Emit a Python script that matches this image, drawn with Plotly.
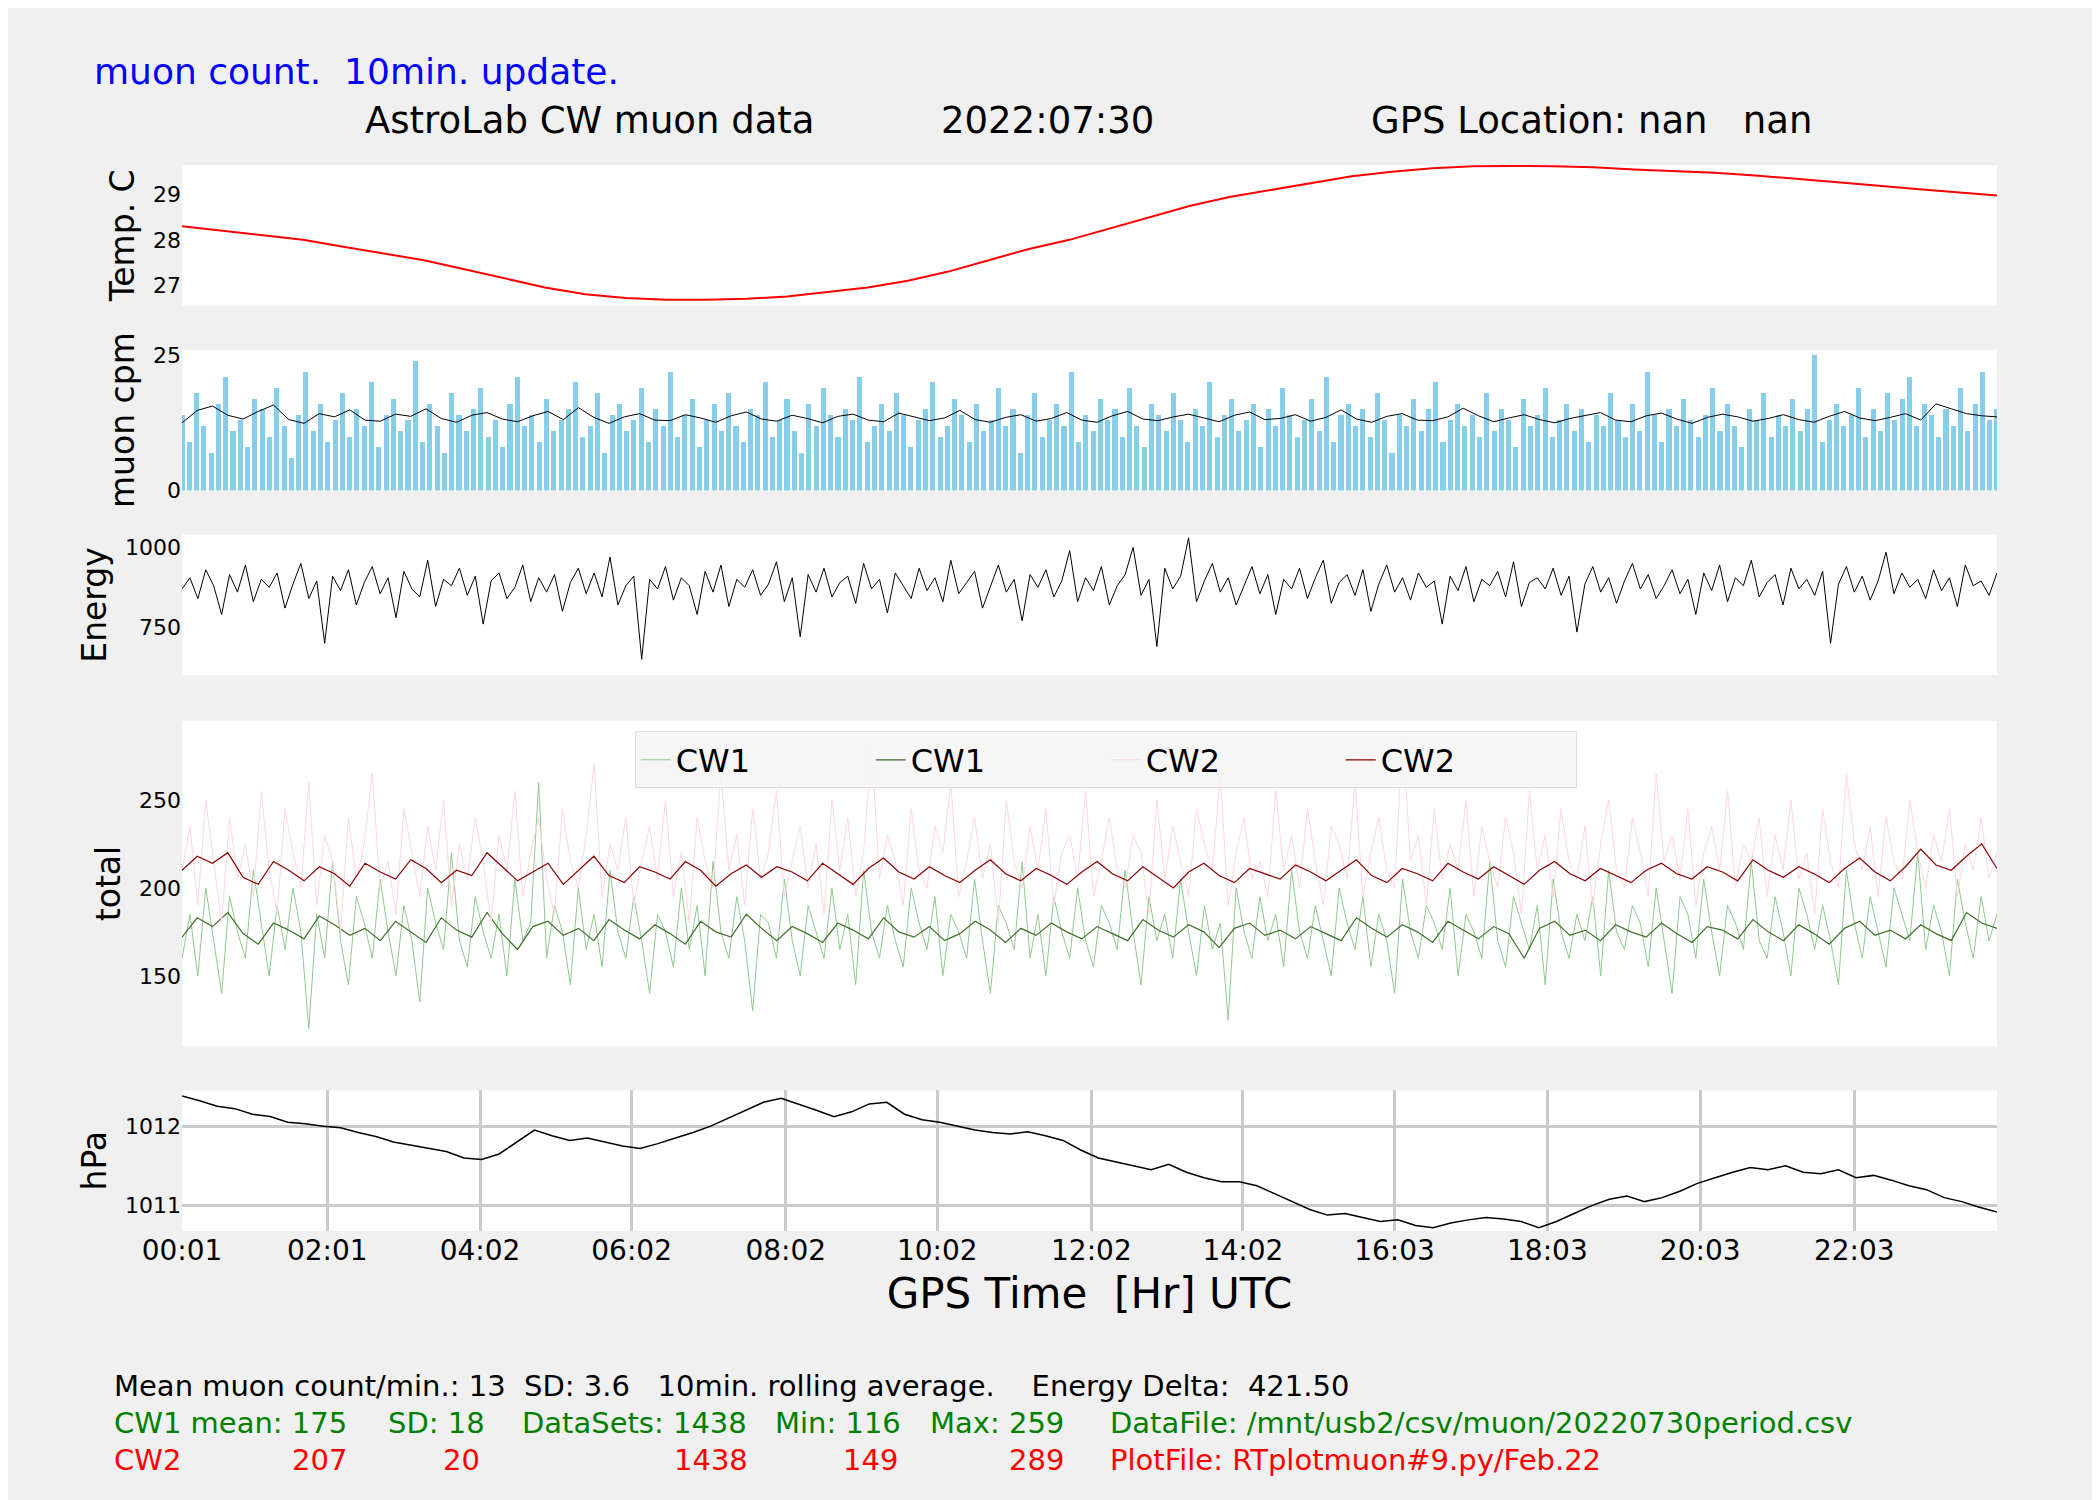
import numpy as np
import plotly.graph_objects as go
from plotly.subplots import make_subplots

N_MIN = 1438
tick_pos = [0, 115, 236, 356, 478, 598, 720, 840, 960, 1081, 1202, 1324]
tick_txt = ["00:01", "02:01", "04:02", "06:02", "08:02", "10:02", "12:02",
            "14:02", "16:03", "18:03", "20:03", "22:03"]

temp_c = [28.3, 28.2, 28.1, 28.0, 27.85, 27.7, 27.55, 27.35, 27.15, 26.95, 26.8, 26.72, 26.68,
          26.68, 26.7, 26.75, 26.85, 26.95, 27.1, 27.3, 27.55, 27.8, 28.0, 28.25, 28.5,
          28.75, 28.95, 29.1, 29.25, 29.4, 29.5, 29.58, 29.62, 29.63, 29.62, 29.6, 29.55,
          29.52, 29.48, 29.42, 29.35, 29.28, 29.2, 29.12, 29.05, 28.98]

muon_cpm = [14,9,18,12,7,16,21,11,13,8,17,15,10,19,12,6,14,22,11,16,9,13,18,10,15,12,20,8,14,17,
            11,13,24,9,16,12,7,18,14,11,15,19,10,13,8,16,21,12,14,9,17,11,13,15,20,10,12,18,7,14,
            16,11,13,19,9,15,12,22,10,14,17,8,13,16,11,18,12,9,15,14,20,10,13,17,11,7,16,12,19,14,
            10,15,13,21,9,12,16,11,18,14,8,13,15,20,10,12,17,14,9,16,11,13,19,12,15,7,14,18,10,13,
            16,12,22,9,14,11,17,13,15,10,19,12,8,16,14,11,18,13,9,15,12,20,10,14,17,11,13,16,8,15,
            12,19,14,10,13,17,11,21,9,14,16,12,15,10,18,13,7,14,12,17,11,15,20,9,13,16,12,14,10,18,
            11,15,13,8,17,12,14,19,10,13,16,11,15,9,14,12,18,13,10,16,11,22,14,9,15,12,17,13,10,14,
            19,11,16,12,8,15,13,18,10,14,12,17,11,15,25,9,13,16,12,14,19,10,15,11,18,13,17,21,12,16,
            14,10,15,12,19,11,16,22,13,15]
muon_avg = [12.5,14.8,15.6,13.9,13.2,14.6,15.8,13.1,12.4,14.2,13.6,14.9,13.0,12.8,14.1,13.7,15.1,13.3,12.6,13.9,
            14.4,13.2,12.7,13.8,14.6,13.1,15.3,13.5,12.4,13.6,14.2,13.0,12.9,14.0,13.4,12.6,13.8,14.5,13.2,12.8,
            13.9,13.3,12.5,13.7,14.1,13.0,12.7,14.3,13.6,12.9,13.4,14.8,13.1,12.6,13.5,14.0,12.8,13.3,14.4,13.0,
            12.6,13.8,14.6,13.2,12.9,13.6,14.1,13.4,12.7,13.9,14.5,13.1,13.3,14.0,12.8,13.5,14.9,13.2,12.6,13.7,
            14.2,13.0,12.9,13.6,15.2,13.8,12.7,13.4,14.0,13.1,12.5,13.3,13.9,14.4,13.0,12.7,13.8,14.3,13.2,12.4,
            13.5,14.1,13.6,12.8,13.3,14.0,13.1,12.6,13.7,14.6,13.4,12.9,13.5,14.2,13.0,16.0,15.1,14.2,13.8,13.6]

energy = [870,905,840,930,880,790,915,860,945,830,900,875,920,810,885,950,840,895,700,910,
          865,930,820,890,940,855,905,780,925,870,845,960,815,900,880,935,850,910,760,895,
          920,840,875,945,830,905,860,915,800,890,935,855,920,845,970,820,880,910,650,900,
          870,940,835,905,880,790,925,860,945,815,900,875,930,850,885,955,830,905,720,915,
          860,935,845,890,910,825,950,870,900,795,920,880,840,935,865,905,830,960,855,890,
          925,810,880,945,860,900,770,915,875,930,845,895,990,830,905,865,940,820,880,915,
          1000,850,900,690,935,870,910,1030,830,895,950,860,905,820,880,940,855,915,790,900,
          870,935,840,905,960,825,890,915,850,930,800,885,945,860,905,835,920,875,895,760,
          910,865,940,830,900,880,925,845,955,815,890,905,870,935,850,910,735,885,940,860,
          905,825,895,950,870,915,840,880,930,855,900,790,920,865,945,830,905,880,960,845,
          890,915,820,935,870,900,850,925,700,885,940,860,910,835,895,985,855,920,875,900,
          840,930,865,905,815,945,880,895,850,920]

cw1_raw = [160,185,150,200,170,140,195,175,160,210,180,150,190,165,200,175,120,185,160,215,
           170,145,195,180,160,205,175,150,190,170,135,200,180,165,220,170,155,195,175,160,
           185,150,205,170,180,260,160,190,175,145,200,165,185,155,210,175,160,195,170,140,
           185,175,155,200,165,190,150,215,175,160,195,170,130,185,180,160,205,170,150,190,
           175,160,200,165,185,145,210,175,160,190,170,155,200,180,165,195,150,185,175,160,
           205,170,140,190,180,165,215,160,185,150,195,175,160,200,170,155,190,180,165,210,
           175,145,195,170,185,160,205,175,150,190,165,180,125,200,175,160,195,170,185,155,
           210,175,160,190,170,150,200,180,165,195,155,185,170,140,205,175,160,190,180,165,
           200,150,185,175,160,215,170,155,195,180,165,190,145,205,175,160,185,170,195,150,
           210,175,165,190,180,155,200,170,140,195,185,160,205,175,150,190,180,165,215,170,
           160,195,175,150,200,185,165,190,170,145,210,180,160,195,175,155,200,185,170,220,
           165,190,175,150,205,180,160,195,170,185]
cw1_avg = [172,183,178,186,174,168,180,176,171,184,179,173,177,170,181,175,169,183,176,172,
           186,174,165,178,181,173,177,170,182,176,171,179,174,168,181,175,172,185,177,170,
           178,174,169,180,176,171,183,175,172,178,170,174,181,176,169,177,173,180,175,171,
           178,174,170,182,176,172,179,175,166,177,180,173,176,171,178,174,170,183,177,172,
           179,175,169,181,176,171,178,174,160,177,181,173,176,170,179,175,172,180,174,169,
           178,176,171,182,175,170,179,174,168,177,181,173,176,171,179,174,170,186,180,177]
cw2_raw = [210,235,190,250,215,180,240,205,225,195,255,210,185,245,220,200,260,190,230,215,
           175,240,205,225,265,200,215,185,245,220,195,235,210,250,190,225,205,240,215,180,
           230,210,255,195,220,240,205,185,245,215,200,230,270,195,225,210,240,190,215,235,
           205,250,195,220,180,240,215,200,265,210,230,190,245,205,220,255,195,215,235,200,
           225,185,250,210,240,195,220,280,205,230,215,190,245,210,200,235,220,260,195,215,
           240,205,225,180,250,215,200,235,210,245,190,220,230,205,255,195,215,240,210,200,
           230,220,185,250,205,235,215,195,245,225,210,265,190,220,240,205,215,195,255,210,
           230,200,245,215,190,235,225,205,260,195,220,240,210,200,289,215,230,190,245,205,
           225,210,250,195,235,215,200,240,220,185,255,210,230,195,245,215,205,235,190,225,
           250,210,200,240,220,195,265,215,230,205,245,190,220,235,210,255,200,225,215,240,
           195,230,210,250,205,220,185,245,215,200,265,225,210,235,195,240,215,205,250,220,
           200,230,215,245,195,225,210,240,205,220]
cw2_avg = [210,218,214,220,206,202,215,210,204,212,208,201,214,209,205,216,211,203,210,207,
           220,212,204,209,214,202,210,218,207,203,212,209,205,215,210,201,208,213,206,212,
           209,204,214,208,202,211,217,209,205,212,207,203,210,216,208,204,211,207,202,209,
           215,208,204,212,206,200,209,214,207,203,211,208,205,213,209,204,210,216,207,203,
           211,208,204,214,209,205,212,207,202,210,215,208,204,211,207,203,210,214,208,205,
           212,209,204,216,210,206,212,208,203,211,217,209,204,212,222,213,210,218,225,211]

hpa = [1012.38,1012.32,1012.25,1012.22,1012.15,1012.12,1012.05,1012.03,1012.0,1011.98,1011.92,1011.87,
       1011.8,1011.76,1011.72,1011.68,1011.6,1011.58,1011.65,1011.8,1011.95,1011.88,1011.82,1011.85,
       1011.8,1011.75,1011.72,1011.78,1011.85,1011.92,1012.0,1012.1,1012.2,1012.3,1012.35,1012.28,
       1012.2,1012.12,1012.18,1012.28,1012.3,1012.15,1012.08,1012.05,1012.0,1011.95,1011.92,1011.9,
       1011.93,1011.88,1011.82,1011.7,1011.6,1011.55,1011.5,1011.45,1011.52,1011.42,1011.35,1011.3,
       1011.3,1011.25,1011.15,1011.05,1010.95,1010.88,1010.9,1010.85,1010.8,1010.82,1010.75,1010.72,
       1010.78,1010.82,1010.85,1010.83,1010.8,1010.72,1010.8,1010.9,1011.0,1011.08,1011.12,1011.05,
       1011.1,1011.18,1011.28,1011.35,1011.42,1011.48,1011.45,1011.5,1011.42,1011.4,1011.45,1011.35,
       1011.38,1011.32,1011.25,1011.2,1011.1,1011.05,1010.98,1010.92]


def xs(arr):
    return np.arange(len(arr)) * (N_MIN - 1) / (len(arr) - 1)


fig = make_subplots(rows=5, cols=1, shared_xaxes=True)
fig.add_trace(go.Scatter(x=xs(temp_c), y=temp_c, mode="lines", line=dict(color="red", width=2)), 1, 1)
fig.add_trace(go.Bar(x=xs(muon_cpm), y=muon_cpm, marker=dict(color="#87ceeb", line=dict(width=0)),
                     width=(N_MIN - 1) / len(muon_cpm) * 0.7), 2, 1)
fig.add_trace(go.Scatter(x=xs(muon_avg), y=muon_avg, mode="lines", line=dict(color="black", width=1)), 2, 1)
fig.add_trace(go.Scatter(x=xs(energy), y=energy, mode="lines", line=dict(color="black", width=1)), 3, 1)
fig.add_trace(go.Scatter(x=xs(cw1_raw), y=cw1_raw, mode="lines", name="CW1",
                         line=dict(color="#8fca8f", width=1), showlegend=True), 4, 1)
fig.add_trace(go.Scatter(x=xs(cw1_avg), y=cw1_avg, mode="lines", name="CW1",
                         line=dict(color="#3f6f2a", width=1.2), showlegend=True), 4, 1)
fig.add_trace(go.Scatter(x=xs(cw2_raw), y=cw2_raw, mode="lines", name="CW2",
                         line=dict(color="#ffd6de", width=1), showlegend=True), 4, 1)
fig.add_trace(go.Scatter(x=xs(cw2_avg), y=cw2_avg, mode="lines", name="CW2",
                         line=dict(color="#8b0000", width=1.2), showlegend=True), 4, 1)
fig.add_trace(go.Scatter(x=xs(hpa), y=hpa, mode="lines", line=dict(color="black", width=1.5)), 5, 1)

for t in fig.data:
    if t.name is None:
        t.showlegend = False


def py(y):
    return (913 - y) / 796


def px(x):
    return (x - 130) / 1355


domains = [(222, 117), (360, 255), (498, 393), (775, 532), (913, 808)]
ytitles = ["Temp. C", "muon cpm", "Energy", "total", "hPa"]
yranges = [[26.55, 29.65], [0, 26], [600, 1040], [110, 295], [1010.68, 1012.45]]
yticks = [[27, 28, 29], [0, 25], [750, 1000], [150, 200, 250], [1011, 1012]]
for i in range(5):
    fig.update_yaxes(row=i + 1, col=1, domain=[py(domains[i][0]), py(domains[i][1])],
                     title=dict(text=ytitles[i], font=dict(size=33), standoff=8), range=yranges[i],
                     tickvals=yticks[i], showgrid=(i == 4), gridcolor="#cbcbcb", gridwidth=3,
                     zeroline=False, tickfont=dict(size=22), ticks="")
    fig.update_xaxes(row=i + 1, col=1, range=[0, N_MIN - 1], tickvals=tick_pos, ticktext=tick_txt,
                     showgrid=(i == 4), gridcolor="#cbcbcb", gridwidth=3, zeroline=False,
                     showticklabels=(i == 4), tickfont=dict(size=28), ticks="")
fig.update_xaxes(row=5, col=1, title=dict(text="GPS Time  [Hr] UTC", font=dict(size=42), standoff=12))

ann = [
    (63, 47, "muon count.  10min. update.", "blue", 36),
    (265, 84, "AstroLab CW muon data", "black", 37),
    (695, 84, "2022:07:30", "black", 37),
    (1016, 84, "GPS Location: nan   nan", "black", 37),
    (78, 1029, "Mean muon count/min.: 13  SD: 3.6   10min. rolling average.    Energy Delta:  421.50", "black", 29),
    (78, 1056, "CW1 mean: 175", "green", 29), (282, 1056, "SD: 18", "green", 29),
    (382, 1056, "DataSets: 1438", "green", 29), (571, 1056, "Min: 116", "green", 29),
    (687, 1056, "Max: 259", "green", 29),
    (821, 1056, "DataFile: /mnt/usb2/csv/muon/20220730period.csv", "green", 29),
    (78, 1084, "CW2", "red", 29), (211, 1084, "207", "red", 29), (323, 1084, "20", "red", 29),
    (496, 1084, "1438", "red", 29), (622, 1084, "149", "red", 29), (746, 1084, "289", "red", 29),
    (821, 1084, "PlotFile: RTplotmuon#9.py/Feb.22", "red", 29),
]
for x, y, txt, col, sz in ann:
    fig.add_annotation(x=px(x), y=py(y), xref="paper", yref="paper", text=txt, showarrow=False,
                       xanchor="left", yanchor="middle", font=dict(color=col, size=sz))

fig.update_layout(
    width=2100, height=1500,
    margin=dict(l=174, r=111, t=157, b=277),
    paper_bgcolor="#f0f0f0", plot_bgcolor="white",
    font=dict(family="DejaVu Sans", color="black"),
    bargap=0,
    legend=dict(orientation="h", x=px(468), y=py(540), xanchor="left", yanchor="top",
                bgcolor="rgba(245,245,245,0.9)", bordercolor="#dddddd", borderwidth=1,
                font=dict(size=32), entrywidth=190),
)
fig.write_html("out.html")
